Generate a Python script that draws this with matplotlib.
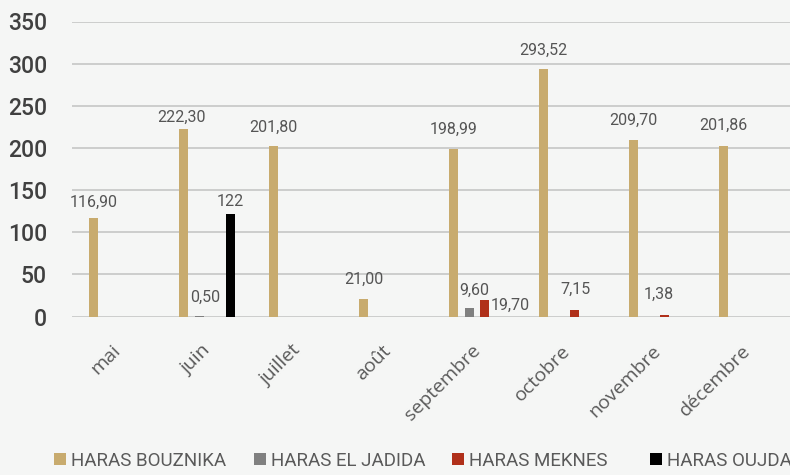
import matplotlib
matplotlib.use("Agg")
import matplotlib.pyplot as plt
import matplotlib.transforms as mtransforms
import numpy as np

months = ["mai", "juin", "juillet", "août", "septembre", "octobre", "novembre", "décembre"]
series = ["HARAS BOUZNIKA", "HARAS EL JADIDA", "HARAS MEKNES", "HARAS OUJDA"]

bouznika = [116.90, 222.30, 201.80, 21.00, 198.99, 293.52, 209.70, 201.86]
el_jadida = [None, 0.50, None, None, 9.60, None, None, None]
meknes = [None, None, None, None, 19.70, 7.15, 1.38, None]
oujda = [None, 122, None, None, None, None, None, None]

colors = ["#c8ab6e", "#808080", "#b0301a", "#000000"]
bg = "#f5f6f5"

# label nudges in pixels (dx, dy above bar top), default is (0, 19)
nudges = {
    (0, 0): (0, 16), (0, 1): (-2, 12), (3, 1): (0, 12.5),
    (1, 1): (6, 19), (1, 4): (5, 18), (2, 4): (25, -5),
    (2, 5): (1, 21), (2, 6): (-6, 21), (0, 7): (0, 21),
}


def fmt(v):
    if v == 122:
        return "122"
    return f"{v:.2f}".replace(".", ",")


fig = plt.figure(figsize=(7.9, 4.75), dpi=100, facecolor=bg)
ax = fig.add_axes([72 / 790, (475 - 316.5) / 475, 720 / 790, 295 / 475])
ax.set_facecolor(bg)

x = np.arange(len(months))
step = 0.174
width = 0.1
data = [bouznika, el_jadida, meknes, oujda]
handles = []
for i, (name, vals, c) in enumerate(zip(series, data, colors)):
    xs = x + (i - 1.5) * step
    hv = [v if v is not None else 0 for v in vals]
    bars = ax.bar(xs, hv, width=width, color=c, label=name, zorder=3)
    handles.append(bars)
    for j, v in enumerate(vals):
        if v is None:
            continue
        dx, dy = nudges.get((i, j), (0, 19))
        ax.annotate(fmt(v), (xs[j], v), xytext=(dx, dy), textcoords="offset pixels",
                    ha="center", va="center", fontsize=11.5, color="#555555",
                    family="Roboto")

ax.set_xlim(-0.5, 7.5)
ax.set_ylim(0, 350)
ax.set_yticks(range(0, 351, 50))
ax.grid(axis="y", color="#c6c6c6", linewidth=1.2, zorder=0)
for s in ax.spines.values():
    s.set_visible(False)

ax.tick_params(axis="y", length=0, pad=18, labelsize=16.5, labelcolor="#404040")
for lab in ax.get_yticklabels():
    lab.set_family("Roboto")
    lab.set_fontweight("medium")

ax.set_xticks(x)
ax.set_xticklabels(months, rotation=45, ha="right", va="top", fontsize=14,
                   color="#5a5a5a", family="Open Sans")
ax.tick_params(axis="x", length=0, pad=18)
shift = mtransforms.ScaledTranslation(7 / 100, 0, fig.dpi_scale_trans)
for lab in ax.get_xticklabels():
    lab.set_transform(lab.get_transform() + shift)

# legend entries spaced evenly along the bottom
legend_x = [54, 254, 452, 650]
for h, name, lx in zip(handles, series, legend_x):
    fig.legend([h], [name], loc="center left", bbox_to_anchor=(lx / 790, 1 - 461 / 475),
               frameon=False, borderpad=0, borderaxespad=0, handlelength=0.62,
               handleheight=0.62, handletextpad=0.3,
               prop={"family": "Roboto", "size": 13.5}, labelcolor="#5a5a5a")

fig.savefig("out.png", dpi=100, facecolor=bg)
